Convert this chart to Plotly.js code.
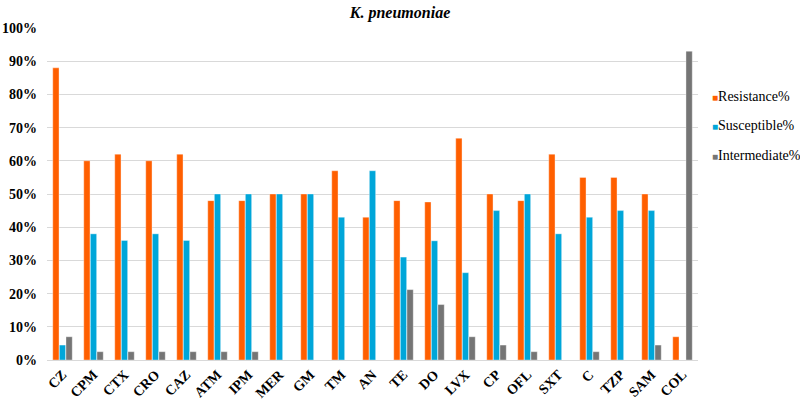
<!DOCTYPE html>
<html>
<head>
<meta charset="utf-8">
<script src="https://cdn.plot.ly/plotly-3.0.1.min.js"></script>
<style>
  html, body { margin: 0; padding: 0; background: #fff; }
  #chart { width: 800px; height: 400px; }
</style>
</head>
<body>
<div id="chart"></div>
<script>
// K. pneumoniae antibiotic profile: resistance / susceptible / intermediate (%)

// ── Data ──────────────────────────────────────────────────────────────────────
const antibiotics = ['CZ', 'CPM', 'CTX', 'CRO', 'CAZ', 'ATM', 'IPM', 'MER', 'GM', 'TM', 'AN',
                     'TE', 'DO', 'LVX', 'CP', 'OFL', 'SXT', 'C', 'TZP', 'SAM', 'COL'];
const resistance   = [88, 60, 62, 60, 62, 48, 48, 50, 50, 57, 43, 48, 47.6, 66.8, 50, 48, 62, 55, 55, 50, 7];
const susceptible  = [4.5, 38, 36, 38, 36, 50, 50, 50, 50, 43, 57, 31, 35.9, 26.3, 45, 50, 38, 43, 45, 45, 0];
const intermediate = [7, 2.5, 2.5, 2.5, 2.5, 2.5, 2.5, 0, 0, 0, 0, 21.2, 16.7, 7, 4.5, 2.5, 0, 2.5, 0, 4.5, 93];
const seriesNames  = ['Resistance%', 'Susceptible%', 'Intermediate%'];
const seriesColors = ['#ff5f00', '#00a6d9', '#757575'];
const yTicks = [0, 10, 20, 30, 40, 50, 60, 70, 80, 90, 100];

// ── Helpers ───────────────────────────────────────────────────────────────────
const serif = 'Liberation Serif';

const traces = [resistance, susceptible, intermediate].map((vals, i) => ({
  type: 'bar',
  name: seriesNames[i],
  x: antibiotics,
  y: vals,
  marker: { color: seriesColors[i], line: { color: 'rgba(255,255,255,0.6)', width: 0.6 } },
  hoverinfo: 'x+y+name',
}));

// Excel-style legend: small square right against the label
const legendNotes = seriesNames.map((name, i) => ({
  xref: 'paper', yref: 'paper',
  x: 1.018, y: 0.795 - i * 0.09,
  xanchor: 'left', yanchor: 'middle',
  showarrow: false,
  align: 'left',
  text: '<span style="color:' + seriesColors[i] + ';font-size:10px">■</span>' + name,
  font: { family: serif, size: 14, color: '#000' },
}));

const layout = {
  width: 800,
  height: 400,
  paper_bgcolor: '#ffffff',
  plot_bgcolor: '#ffffff',
  font: { family: serif, color: '#000000', size: 13 },
  margin: { l: 47, r: 102, t: 28, b: 40, autoexpand: false },
  title: {
    text: 'K. pneumoniae',
    font: { family: serif, size: 16, color: '#000', weight: 'bold', style: 'italic' },
    x: 0.5, xanchor: 'center',
    y: 0.97, yanchor: 'middle',
  },
  barmode: 'group',
  bargap: 0.36,
  bargroupgap: 0.05,
  xaxis: {
    type: 'category',
    tickangle: -45,
    tickfont: { family: serif, size: 14, color: '#000', weight: 'bold' },
    showgrid: false,
    showline: true,
    linecolor: '#d9d9d9',
    ticks: '',
  },
  yaxis: {
    range: [0, 100],
    tickvals: yTicks,
    ticktext: yTicks.map(v => v + '%'),
    tickfont: { family: serif, size: 14, color: '#000', weight: 'bold' },
    gridcolor: '#d9d9d9',
    gridwidth: 1,
    zeroline: false,
    showline: false,
    ticks: '',
    ticklabelstandoff: 9,
  },
  showlegend: false,
  annotations: legendNotes,
};

Plotly.newPlot('chart', traces, layout, { displayModeBar: false, staticPlot: true });
</script>
</body>
</html>
